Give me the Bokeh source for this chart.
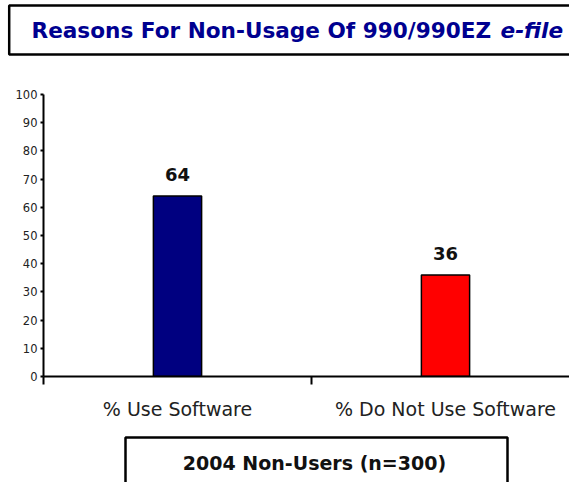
from bokeh.plotting import figure
from bokeh.layouts import column
from bokeh.models import ColumnDataSource, Range1d, FixedTicker, LabelSet
from bokeh.core.properties import value
from bokeh.embed import file_html
from bokeh.resources import INLINE

categories = ["% Use Software", "% Do Not Use Software"]
values = [64, 36]
colors = ["#000080", "#FF0000"]
y_ticks = [0, 10, 20, 30, 40, 50, 60, 70, 80, 90, 100]
title_main = "Reasons For Non-Usage Of 990/990EZ"
title_italic = "e-file"
subtitle = "2004 Non-Users (n=300)"

FONT = "DejaVu Sans"
W = 569
H_TOP, H_MID, H_BOT = 70, 360, 52


def blank(height, y0):
    f = figure(width=W, height=height, output_backend="svg", toolbar_location=None,
               title=None, x_axis_location=None, y_axis_location=None,
               x_range=Range1d(0, W), y_range=Range1d(y0 + height, y0),
               min_border=0, frame_align=False)
    f.outline_line_color = None
    f.xgrid.visible = False
    f.ygrid.visible = False
    return f


# --- title strip ---
top = blank(H_TOP, 0)
top.quad(left=[8.7], right=[640], top=[5], bottom=[54], fill_color=None,
         line_color="black", line_width=2.5)
top.text(x=[31], y=[30], text=[title_main], text_font=value(FONT),
         text_font_size="21.6px", text_font_style="bold", text_color="#000090",
         text_align="left", text_baseline="alphabetic")
top.text(x=[500], y=[30], text=[title_italic], text_font=value(FONT),
         text_font_size="21.6px", text_font_style="bold italic",
         text_color="#000090", text_align="left", text_baseline="alphabetic")

# --- chart ---
x_pos = list(range(len(categories)))
src = ColumnDataSource(dict(x=x_pos, top=values, color=colors,
                            label=[str(v) for v in values]))

p = figure(width=W, height=H_MID, output_backend="svg", toolbar_location=None,
           title=None, x_range=Range1d(-0.5, 1.4627), y_range=Range1d(0, 100),
           min_border_left=43, min_border_right=0, min_border_top=24,
           min_border_bottom=54, frame_align=False)
p.outline_line_color = None
p.xgrid.visible = False
p.ygrid.visible = False

p.vbar(x="x", top="top", bottom=0, width=0.18, fill_color="color",
       line_color="black", line_width=1.5, source=src)

p.add_layout(LabelSet(x="x", y="top", text="label", source=src, y_offset=15,
                      text_align="center", text_baseline="alphabetic",
                      text_font=value(FONT), text_font_size="18px",
                      text_font_style="bold", text_color="#111111"))

xa = p.xaxis[0]
xa.ticker = FixedTicker(ticks=x_pos, minor_ticks=[-0.5, 0.5, 1.5])
xa.major_label_overrides = {i: c for i, c in zip(x_pos, categories)}
xa.major_tick_in = 0
xa.major_tick_out = 0
xa.minor_tick_in = 0
xa.minor_tick_out = 8
xa.minor_tick_line_width = 2
xa.minor_tick_line_color = "black"
xa.axis_line_width = 2
xa.axis_line_color = "black"
xa.major_label_text_font = FONT
xa.major_label_text_font_size = "19px"
xa.major_label_text_color = "#222222"
xa.major_label_standoff = 13

ya = p.yaxis[0]
ya.ticker = FixedTicker(ticks=y_ticks, minor_ticks=[])
ya.major_tick_in = 0
ya.major_tick_out = 3
ya.major_tick_line_width = 2
ya.axis_line_width = 2
ya.axis_line_color = "black"
ya.major_label_text_font = FONT
ya.major_label_text_font_size = "11.5px"
ya.major_label_text_color = "#222222"
ya.major_label_standoff = 3

# --- subtitle strip ---
bot = blank(H_BOT, H_TOP + H_MID)
bot.quad(left=[125], right=[507], top=[437], bottom=[520], fill_color=None,
         line_color="black", line_width=2.5)
bot.text(x=[314], y=[462], text=[subtitle], text_font=value(FONT),
         text_font_size="19px", text_font_style="bold", text_color="#111111",
         text_align="center", text_baseline="alphabetic")

layout = column(top, p, bot, spacing=0)
open("out.html", "w").write(file_html(layout, INLINE))
